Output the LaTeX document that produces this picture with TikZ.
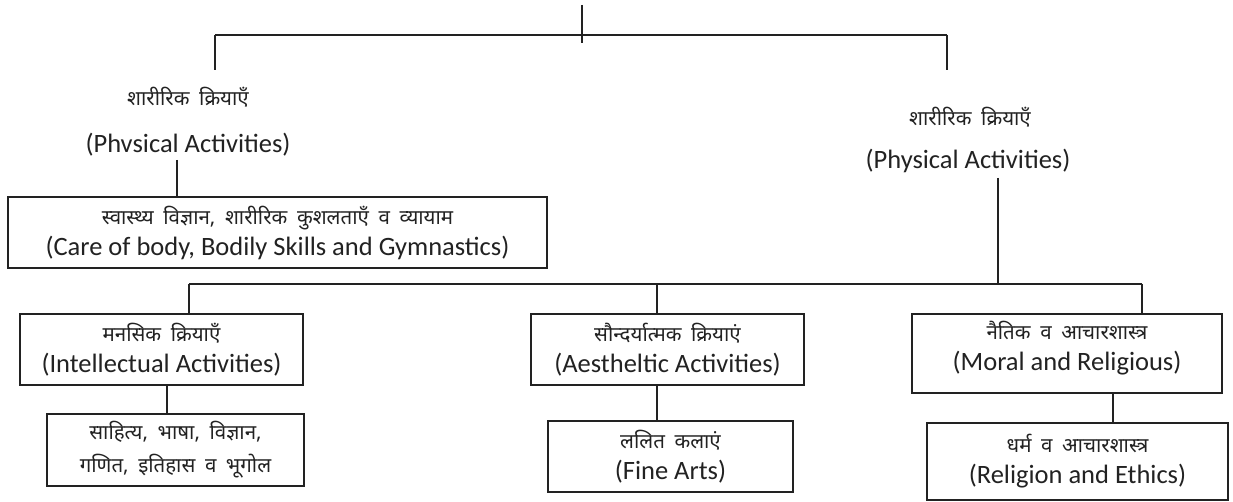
\documentclass[tikz,border=0pt]{standalone}
\usepackage{fontspec}
\setmainfont{Carlito}
\newfontfamily\hin[Script=Devanagari,WordSpace=1.8]{Noto Sans}
\definecolor{ink}{HTML}{222222}
\newcommand{\hsz}{\hin\fontsize{20.5}{24}\selectfont}
\begin{document}
\begin{tikzpicture}[x=1pt,y=-1pt,
  lines/.style={draw=ink, line width=1.5pt},
  box/.style={draw=ink, line width=1.5pt, rectangle, inner sep=0pt, align=center, text=ink,
    font=\fontsize{26.5}{31}\selectfont},
  lbl/.style={text=ink, inner sep=0pt, font=\fontsize{26.5}{30}\selectfont},
  hl/.style={text=ink, inner sep=0pt, font=\hsz}]
\useasboundingbox[fill=white] (0,0) rectangle (1233,502);

% top bracket
\coordinate (top) at (582,5);
\coordinate (tj) at (582,43);
\coordinate (tl) at (215,35);
\coordinate (tr) at (947,35);
\coordinate (tld) at (215,70);
\coordinate (trd) at (947,70);
\draw[lines] (top) -- (tj);
\draw[lines] (tl) -- (tr);
\draw[lines] (tl) -- (tld);
\draw[lines] (tr) -- (trd);

% left branch
\node[hl] (lh) at (188,97) {शारीरिक क्रियाएँ};
\node[lbl] (le) at (188,145) {(Phvsical Activities)};
\node[box, minimum width=539pt, minimum height=71pt] (care) at (277.5,232.5)
  {{\hsz स्वास्थ्य विज्ञान, शारीरिक कुशलताएँ व व्यायाम}\\(Care of body, Bodily Skills and Gymnastics)};
\coordinate (lv) at (177,160);
\draw[lines] (lv) -- (lv |- care.north);

% right branch
\node[hl] (rh) at (970,117) {शारीरिक क्रियाएँ};
\node[lbl] (re) at (968,161) {(Physical Activities)};
\coordinate (rv) at (998,178);
\coordinate (hj) at (998,284);
\draw[lines] (rv) -- (hj);

% second-level boxes
\node[box, minimum width=283pt, minimum height=71pt] (intel) at (161.5,349.5)
  {{\hsz मनसिक क्रियाएँ}\\(Intellectual Activities)};
\node[box, minimum width=273pt, minimum height=71pt] (aest) at (667.5,349.5)
  {{\hsz सौन्दर्यात्मक क्रियाएं}\\(Aestheltic Activities)};
\node[box, minimum width=310pt, minimum height=79pt] (moral) at (1067,353.5)
  {{\hsz नैतिक व आचारशास्त्र}\\(Moral and Religious)\\[-16pt]\mbox{}};

\coordinate (hL) at (189,284);
\coordinate (hR) at (1142,284);
\coordinate (hA) at (657,284);
\draw[lines] (hL) -- (hR);
\draw[lines] (hL) -- (hL |- intel.north);
\draw[lines] (hA) -- (hA |- aest.north);
\draw[lines] (hR) -- (hR |- moral.north);

% third-level boxes
\node[box, minimum width=257pt, minimum height=72pt,
  font=\hin\fontsize{20.5}{33}\selectfont] (lit) at (175.5,450)
  {साहित्य, भाषा, विज्ञान,\\गणित, इतिहास व भूगोल};
\node[box, minimum width=245pt, minimum height=71pt] (fine) at (670.5,456.5)
  {{\hsz ललित कलाएं}\\(Fine Arts)};
\node[box, minimum width=301pt, minimum height=77pt] (relig) at (1077.5,461.5)
  {{\hsz धर्म व आचारशास्त्र}\\(Religion and Ethics)};

\coordinate (iv) at (167,0);
\draw[lines] (iv |- intel.south) -- (iv |- lit.north);
\coordinate (av) at (657,0);
\draw[lines] (av |- aest.south) -- (av |- fine.north);
\coordinate (mv) at (1113,0);
\draw[lines] (mv |- moral.south) -- (mv |- relig.north);
\end{tikzpicture}
\end{document}
